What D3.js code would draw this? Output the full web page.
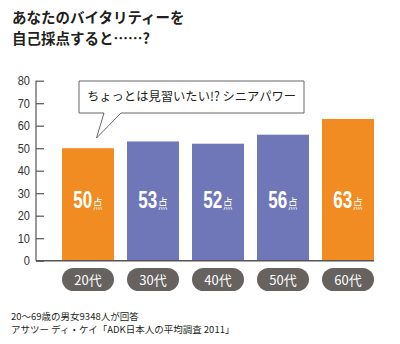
<!DOCTYPE html>
<html>
<head>
<meta charset="utf-8">
<script src="https://cdn.jsdelivr.net/npm/d3@7"></script>
<style>
  body { margin: 0; background: #fff; }
  svg { display: block; font-family: "Noto Sans CJK JP", "Noto Sans", sans-serif; }
</style>
</head>
<body>
<div id="chart"></div>
<script>
const ages = ["20代", "30代", "40代", "50代", "60代"];
const scores = [50, 53, 52, 56, 63];
const highlighted = ["20代", "60代"];
const yTicks = [0, 10, 20, 30, 40, 50, 60, 70, 80];
const titleLines = ["あなたのバイタリティーを", "自己採点すると……?"];
const calloutText = "ちょっとは見習いたい!? シニアパワー";
const notes = ["20〜69歳の男女9348人が回答", "アサツー ディ・ケイ「ADK日本人の平均調査 2011」"];

const width = 400;
const height = 344;
const axisX = 36, plotTop = 80.7, plotBottom = 260.7;

const svg = d3.select("#chart").append("svg")
    .attr("width", width)
    .attr("height", height);

// title
svg.append("g").selectAll("text")
    .data(titleLines)
    .enter()
    .append("text")
    .attr("x", 12)
    .attr("y", (d, i) => 23 + i * 21)
    .text(d => d)
    .style("font-size", "14.5px")
    .style("font-weight", "bold")
    .style("fill", "#231f20");

const x = d3.scaleBand()
    .domain(ages)
    .range([55.5, 380.5])
    .paddingInner(0.2)
    .paddingOuter(0.1);

const y = d3.scaleLinear()
    .domain([0, 80])
    .range([plotBottom, plotTop]);

// y axis
const yAxis = d3.axisRight(y)
    .tickValues(yTicks)
    .tickSize(8)
    .tickFormat("");

const yg = svg.append("g")
    .attr("transform", "translate(" + axisX + ",0)")
    .call(yAxis);
yg.select(".domain").remove();
yg.selectAll(".tick line").attr("stroke", "#555").attr("stroke-width", 1.2);
yg.append("line")
    .attr("y1", plotTop)
    .attr("y2", plotBottom)
    .attr("stroke", "#555")
    .attr("stroke-width", 1.2);

// condensed-looking tick labels
svg.append("g").selectAll("text")
    .data(yTicks)
    .enter()
    .append("text")
    .attr("transform", d => "translate(30," + (y(d) + 4.5) + ") scale(0.85,1)")
    .attr("text-anchor", "end")
    .text(d => d)
    .style("font-family", "'Liberation Sans', Arial, sans-serif")
    .style("font-size", "13px")
    .style("fill", "#333");

// bars
svg.append("g").selectAll("rect")
    .data(ages)
    .enter()
    .append("rect")
    .attr("x", d => x(d))
    .attr("y", (d, i) => y(scores[i]))
    .attr("width", x.bandwidth())
    .attr("height", (d, i) => plotBottom - y(scores[i]))
    .attr("fill", d => highlighted.includes(d) ? "#f08c21" : "#6f77b9");

// baseline
svg.append("line")
    .attr("x1", axisX)
    .attr("x2", x(ages[ages.length - 1]) + x.bandwidth())
    .attr("y1", plotBottom)
    .attr("y2", plotBottom)
    .attr("stroke", "#555")
    .attr("stroke-width", 1.4);

// value labels
const vl = svg.append("g").selectAll("text")
    .data(ages)
    .enter()
    .append("text")
    .attr("transform", d => "translate(" + (x(d) + x.bandwidth() / 2) + ",208) scale(0.74,1)")
    .attr("text-anchor", "middle")
    .style("fill", "#fff");
vl.append("tspan")
    .text((d, i) => scores[i])
    .style("font-family", "'Liberation Sans', Arial, sans-serif")
    .style("font-weight", "bold")
    .style("font-size", "23px");
vl.append("tspan")
    .text("点")
    .attr("dx", 1)
    .style("font-size", "13px");

// pills under axis
const pills = svg.append("g").selectAll("g")
    .data(ages)
    .enter()
    .append("g")
    .attr("transform", d => "translate(" + x(d) + ",268)");
pills.append("rect")
    .attr("width", x.bandwidth())
    .attr("height", 23)
    .attr("rx", 11.5)
    .attr("fill", "#65625f");
pills.append("text")
    .attr("x", x.bandwidth() / 2)
    .attr("y", 16.5)
    .attr("text-anchor", "middle")
    .text(d => d)
    .style("font-size", "13px")
    .style("fill", "#fff");

// callout
const bx0 = 79, bx1 = 304, by0 = 81, by1 = 113;
svg.append("path")
    .attr("d", "M" + bx0 + "," + by0 + "H" + bx1 + "V" + by1 + "H121L96.5,138L104," + by1 + "H" + bx0 + "Z")
    .attr("fill", "#fff")
    .attr("stroke", "#666")
    .attr("stroke-width", 1);
svg.append("text")
    .attr("x", (bx0 + bx1) / 2)
    .attr("y", 101)
    .attr("text-anchor", "middle")
    .text(calloutText)
    .style("font-size", "12.3px")
    .style("fill", "#231f20");

// notes
svg.append("g").selectAll("text")
    .data(notes)
    .enter()
    .append("text")
    .attr("x", 11)
    .attr("y", (d, i) => 320 + i * 13)
    .text(d => d)
    .style("font-size", "9.5px")
    .style("fill", "#231f20");
</script>
</body>
</html>
